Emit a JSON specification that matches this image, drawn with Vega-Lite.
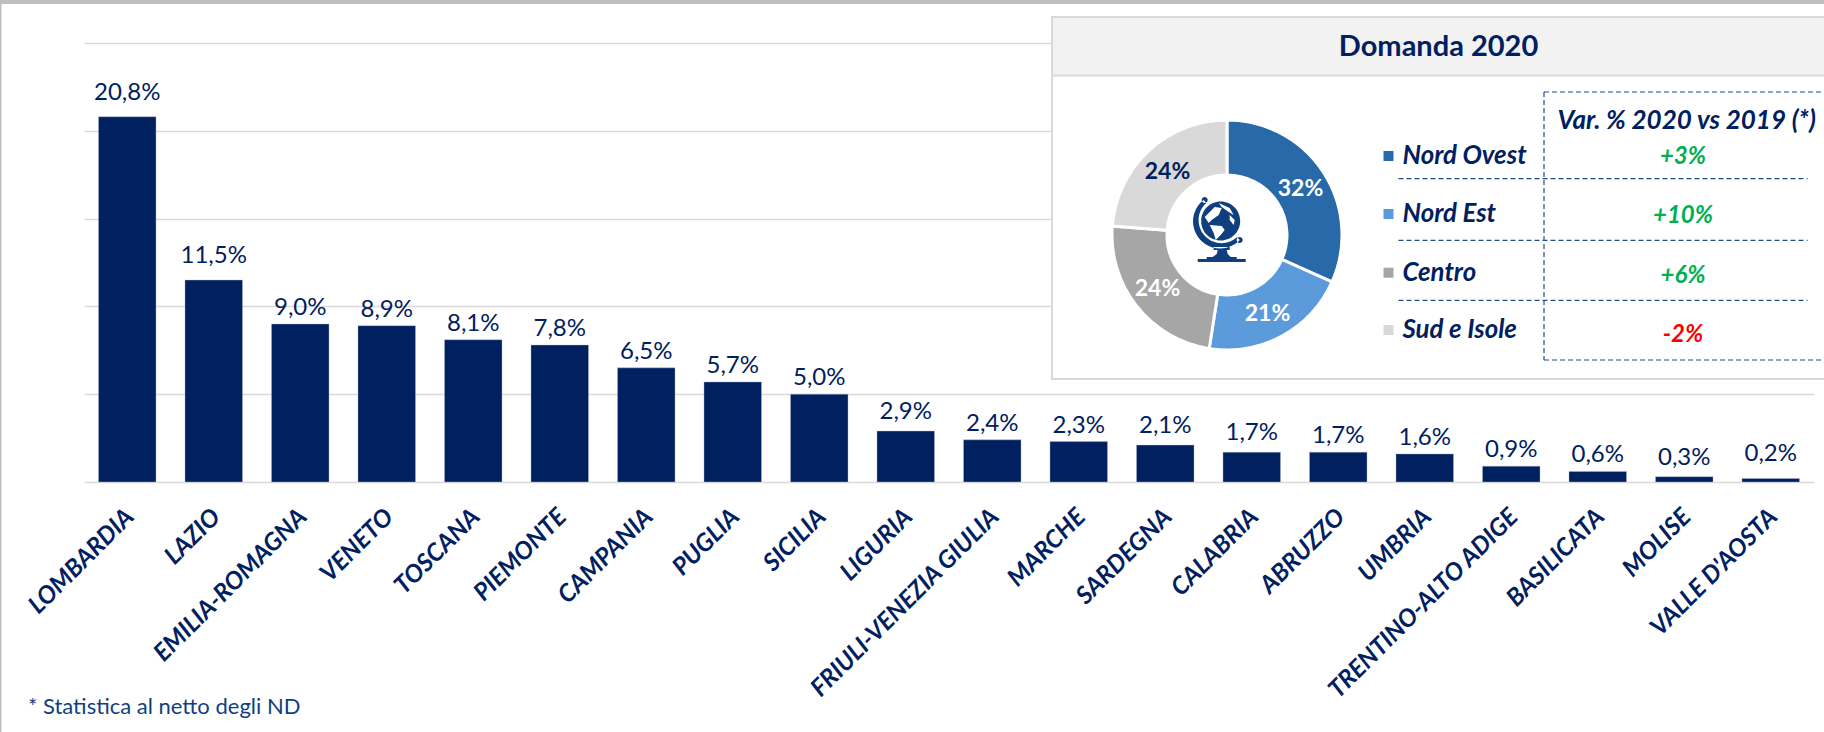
{
  "$schema": "https://vega.github.io/schema/vega-lite/v6.json",
  "width": 1730,
  "height": 439,
  "autosize": {"type": "none"},
  "padding": {"left": 84, "top": 43, "right": 10, "bottom": 250},
  "background": "white",
  "config": {"view": {"stroke": null}, "font": "Lato"},
  "datasets": {
    "regioni": [
      {"regione": "LOMBARDIA", "quota": 20.8, "etichetta": "20,8%"},
      {"regione": "LAZIO", "quota": 11.5, "etichetta": "11,5%"},
      {"regione": "EMILIA-ROMAGNA", "quota": 9.0, "etichetta": "9,0%"},
      {"regione": "VENETO", "quota": 8.9, "etichetta": "8,9%"},
      {"regione": "TOSCANA", "quota": 8.1, "etichetta": "8,1%"},
      {"regione": "PIEMONTE", "quota": 7.8, "etichetta": "7,8%"},
      {"regione": "CAMPANIA", "quota": 6.5, "etichetta": "6,5%"},
      {"regione": "PUGLIA", "quota": 5.7, "etichetta": "5,7%"},
      {"regione": "SICILIA", "quota": 5.0, "etichetta": "5,0%"},
      {"regione": "LIGURIA", "quota": 2.9, "etichetta": "2,9%"},
      {"regione": "FRIULI-VENEZIA GIULIA", "quota": 2.4, "etichetta": "2,4%"},
      {"regione": "MARCHE", "quota": 2.3, "etichetta": "2,3%"},
      {"regione": "SARDEGNA", "quota": 2.1, "etichetta": "2,1%"},
      {"regione": "CALABRIA", "quota": 1.7, "etichetta": "1,7%"},
      {"regione": "ABRUZZO", "quota": 1.7, "etichetta": "1,7%"},
      {"regione": "UMBRIA", "quota": 1.6, "etichetta": "1,6%"},
      {"regione": "TRENTINO-ALTO ADIGE", "quota": 0.9, "etichetta": "0,9%"},
      {"regione": "BASILICATA", "quota": 0.6, "etichetta": "0,6%"},
      {"regione": "MOLISE", "quota": 0.3, "etichetta": "0,3%"},
      {"regione": "VALLE D'AOSTA", "quota": 0.2, "etichetta": "0,2%"}
    ],
    "cornice": [
      {"x": 0, "x2": 1824, "y": 0, "y2": 4},
      {"x": 0, "x2": 1.5, "y": 0, "y2": 732}
    ],
    "pannello": [
      {"x": 1052, "x2": 1840, "y": 17, "y2": 379, "parte": "corpo"},
      {"x": 1052, "x2": 1840, "y": 17, "y2": 75.5, "parte": "testata"}
    ],
    "tratteggi": [
      {"x": 1544, "x2": 1544, "y": 92, "y2": 360},
      {"x": 1544, "x2": 1840, "y": 92, "y2": 92},
      {"x": 1544, "x2": 1840, "y": 360, "y2": 360},
      {"x": 1398.5, "x2": 1807.5, "y": 178.7, "y2": 178.7},
      {"x": 1398.5, "x2": 1807.5, "y": 240.3, "y2": 240.3},
      {"x": 1398.5, "x2": 1807.5, "y": 300.3, "y2": 300.3}
    ],
    "macroaree": [
      {"area": "Nord Ovest", "ordine": 1, "peso": 32, "xc": 1227, "yc": 235},
      {"area": "Nord Est", "ordine": 2, "peso": 21, "xc": 1227, "yc": 235},
      {"area": "Centro", "ordine": 3, "peso": 24, "xc": 1227, "yc": 235},
      {"area": "Sud e Isole", "ordine": 4, "peso": 24, "xc": 1227, "yc": 235}
    ],
    "legenda": [
      {"area": "Nord Ovest", "x": 1388.5, "y": 156, "xt": 1402.5, "var": "+3%", "xv": 1683, "yv": 157, "tono": "su"},
      {"area": "Nord Est", "x": 1388.5, "y": 214, "xt": 1402.5, "var": "+10%", "xv": 1683, "yv": 216, "tono": "su"},
      {"area": "Centro", "x": 1388.5, "y": 272.7, "xt": 1402.5, "var": "+6%", "xv": 1683, "yv": 276, "tono": "su"},
      {"area": "Sud e Isole", "x": 1388.5, "y": 330, "xt": 1402.5, "var": "-2%", "xv": 1683, "yv": 335, "tono": "giu"}
    ],
    "percentuali": [
      {"testo": "32%", "x": 1300.5, "y": 189, "colore": "chiaro"},
      {"testo": "21%", "x": 1267.5, "y": 314, "colore": "chiaro"},
      {"testo": "24%", "x": 1157.5, "y": 289, "colore": "chiaro"},
      {"testo": "24%", "x": 1167.5, "y": 172, "colore": "scuro"}
    ],
    "titolo": [{"testo": "Domanda 2020", "x": 1438.5, "y": 47}],
    "intestazione": [{"testo": "Var. % 2020 vs 2019 (*)", "x": 1686.7, "y": 121}],
    "nota": [{"testo": "* Statistica al netto degli ND", "x": 28, "y": 707}],
    "globo": [{"x": 1220.7, "y": 221}]
  },
  "resolve": {"scale": {"x": "independent", "y": "independent", "color": "independent", "theta": "independent"}},
  "layer": [
    {
      "data": {"name": "regioni"},
      "encoding": {
        "x": {
          "field": "regione", "type": "nominal", "sort": null,
          "scale": {
            "domain": ["LOMBARDIA", "LAZIO", "EMILIA-ROMAGNA", "VENETO", "TOSCANA", "PIEMONTE", "CAMPANIA", "PUGLIA", "SICILIA", "LIGURIA", "FRIULI-VENEZIA GIULIA", "MARCHE", "SARDEGNA", "CALABRIA", "ABRUZZO", "UMBRIA", "TRENTINO-ALTO ADIGE", "BASILICATA", "MOLISE", "VALLE D'AOSTA"],
            "paddingInner": 0.335, "paddingOuter": 0.1675
          },
          "axis": {
            "title": null, "domain": false, "ticks": false,
            "labelAngle": -45, "labelAlign": "right", "labelBaseline": "middle",
            "labelFont": "Lato", "labelFontWeight": "bold", "labelFontStyle": "italic",
            "labelFontSize": 24.5, "labelColor": "#002060", "labelPadding": 31,
            "labelOffset": 3, "labelOverlap": false, "labelLimit": 500, "labelBound": false, "labelFlush": false
          }
        },
        "y": {
          "field": "quota", "type": "quantitative",
          "scale": {"domain": [0, 25], "nice": false},
          "axis": {
            "title": null, "domain": false, "ticks": false, "labels": false,
            "values": [0, 5, 10, 15, 20, 25],
            "grid": true, "gridColor": "#D9D9D9", "gridWidth": 1.6
          }
        }
      },
      "layer": [
        {"mark": {"type": "bar", "color": "#002060", "stroke": "#B4BED6", "strokeWidth": 0.4}},
        {
          "transform": [{"filter": {"field": "regione", "oneOf": ["LOMBARDIA", "LAZIO", "VALLE D'AOSTA"]}}],
          "mark": {"type": "text", "baseline": "alphabetic", "dy": -17, "fontSize": 24, "color": "#002060", "font": "Lato"},
          "encoding": {"text": {"field": "etichetta"}}
        },
        {
          "transform": [{"filter": {"field": "regione", "oneOf": ["LIGURIA", "MOLISE", "SARDEGNA", "CALABRIA"]}}],
          "mark": {"type": "text", "baseline": "alphabetic", "dy": -12, "fontSize": 24, "color": "#002060", "font": "Lato"},
          "encoding": {"text": {"field": "etichetta"}}
        },
        {
          "transform": [{"filter": {"not": {"field": "regione", "oneOf": ["LOMBARDIA", "LAZIO", "VALLE D'AOSTA", "LIGURIA", "MOLISE", "SARDEGNA", "CALABRIA"]}}}],
          "mark": {"type": "text", "baseline": "alphabetic", "dy": -9, "fontSize": 24, "color": "#002060", "font": "Lato"},
          "encoding": {"text": {"field": "etichetta"}}
        }
      ]
    },
    {
      "data": {"name": "cornice"},
      "mark": {"type": "rect", "color": "#BFBFBF"},
      "encoding": {
        "x": {"field": "x", "type": "quantitative", "scale": {"domain": [84, 1814], "range": [0, 1730]}, "axis": null},
        "x2": {"field": "x2"},
        "y": {"field": "y", "type": "quantitative", "scale": {"domain": [43, 482], "range": [0, 439]}, "axis": null},
        "y2": {"field": "y2"}
      }
    },
    {
      "data": {"name": "pannello"},
      "mark": {"type": "rect", "stroke": "#D9D9D9", "strokeWidth": 2},
      "encoding": {
        "x": {"field": "x", "type": "quantitative", "scale": {"domain": [84, 1814], "range": [0, 1730]}, "axis": null},
        "x2": {"field": "x2"},
        "y": {"field": "y", "type": "quantitative", "scale": {"domain": [43, 482], "range": [0, 439]}, "axis": null},
        "y2": {"field": "y2"},
        "fill": {"field": "parte", "type": "nominal", "scale": {"domain": ["corpo", "testata"], "range": ["#FFFFFF", "#F2F2F2"]}, "legend": null}
      }
    },
    {
      "data": {"name": "tratteggi"},
      "mark": {"type": "rule", "color": "#1F4E8C", "strokeWidth": 1.2, "strokeDash": [5, 3]},
      "encoding": {
        "x": {"field": "x", "type": "quantitative", "scale": {"domain": [84, 1814], "range": [0, 1730]}, "axis": null},
        "x2": {"field": "x2"},
        "y": {"field": "y", "type": "quantitative", "scale": {"domain": [43, 482], "range": [0, 439]}, "axis": null},
        "y2": {"field": "y2"}
      }
    },
    {
      "data": {"name": "macroaree"},
      "mark": {"type": "arc", "innerRadius": 60, "outerRadius": 115, "stroke": "#FFFFFF", "strokeWidth": 3},
      "encoding": {
        "x": {"field": "xc", "type": "quantitative", "scale": {"domain": [84, 1814], "range": [0, 1730]}, "axis": null},
        "y": {"field": "yc", "type": "quantitative", "scale": {"domain": [43, 482], "range": [0, 439]}, "axis": null},
        "theta": {"field": "peso", "type": "quantitative", "stack": true},
        "order": {"field": "ordine"},
        "color": {
          "field": "area", "type": "nominal",
          "scale": {"domain": ["Nord Ovest", "Nord Est", "Centro", "Sud e Isole"], "range": ["#2869A9", "#5B9BDB", "#A6A6A6", "#D9D9D9"]},
          "legend": null
        }
      }
    },
    {
      "data": {"name": "globo"},
      "encoding": {
        "x": {"field": "x", "type": "quantitative", "scale": {"domain": [84, 1814], "range": [0, 1730]}, "axis": null},
        "y": {"field": "y", "type": "quantitative", "scale": {"domain": [43, 482], "range": [0, 439]}, "axis": null}
      },
      "layer": [
        {
          "mark": {"type": "point", "filled": true, "opacity": 1, "size": 4, "color": "#0F3F7F",
            "shape": "M0 -19.5 A19.5 19.5 0 1 1 0 19.5 A19.5 19.5 0 1 1 0 -19.5 Z M-17 -21 A27 27 0 1 0 19 19 L16.3 16.3 A23 23 0 1 1 -14.5 -17.9 Z M-19 -21 A3 3 0 1 1 -13 -21 A3 3 0 1 1 -19 -21 Z M16 19 A3 3 0 1 1 22 19 A3 3 0 1 1 16 19 Z M-7 26 L9 26 L9 29 L6 29 L7 33 L10 36 L16 36 L16 38 L25 38 L25 41 L-23 41 L-23 38 L-14 38 L-14 36 L-8 36 L-4 33 L-3 29 L-7 29 Z"
          }
        },
        {
          "mark": {"type": "point", "filled": true, "opacity": 1, "size": 4, "color": "#FFFFFF",
            "shape": "M-16 -4 L-6 -14 L1 -13 L-2 -6 L-9 -1 L-12 2 Z M-11 4 L1 5 L4 9 L0 14 L-5 19 L-7 12 Z M-2 -18 L9 -13 L13 -6 L8 -9 L1 -14 Z M9 -6 L14 -1 L13 4 L9 -1 Z"
          }
        }
      ]
    },
    {
      "data": {"name": "percentuali"},
      "mark": {"type": "text", "fontSize": 23, "fontWeight": "bold", "font": "Lato", "baseline": "middle"},
      "encoding": {
        "x": {"field": "x", "type": "quantitative", "scale": {"domain": [84, 1814], "range": [0, 1730]}, "axis": null},
        "y": {"field": "y", "type": "quantitative", "scale": {"domain": [43, 482], "range": [0, 439]}, "axis": null},
        "text": {"field": "testo"},
        "color": {"field": "colore", "type": "nominal", "scale": {"domain": ["chiaro", "scuro"], "range": ["#FFFFFF", "#002060"]}, "legend": null}
      }
    },
    {
      "data": {"name": "legenda"},
      "mark": {"type": "point", "shape": "square", "filled": true, "opacity": 1, "size": 100},
      "encoding": {
        "x": {"field": "x", "type": "quantitative", "scale": {"domain": [84, 1814], "range": [0, 1730]}, "axis": null},
        "y": {"field": "y", "type": "quantitative", "scale": {"domain": [43, 482], "range": [0, 439]}, "axis": null},
        "color": {
          "field": "area", "type": "nominal",
          "scale": {"domain": ["Nord Ovest", "Nord Est", "Centro", "Sud e Isole"], "range": ["#2869A9", "#5B9BDB", "#A6A6A6", "#D9D9D9"]},
          "legend": null
        }
      }
    },
    {
      "data": {"name": "legenda"},
      "mark": {"type": "text", "align": "left", "baseline": "middle", "fontSize": 25.8, "fontWeight": "bold", "fontStyle": "italic", "font": "Lato", "color": "#002060"},
      "encoding": {
        "x": {"field": "xt", "type": "quantitative", "scale": {"domain": [84, 1814], "range": [0, 1730]}, "axis": null},
        "y": {"field": "y", "type": "quantitative", "scale": {"domain": [43, 482], "range": [0, 439]}, "axis": null},
        "text": {"field": "area"}
      }
    },
    {
      "data": {"name": "legenda"},
      "mark": {"type": "text", "align": "center", "baseline": "middle", "fontSize": 24, "fontWeight": "bold", "fontStyle": "italic", "font": "Lato"},
      "encoding": {
        "x": {"field": "xv", "type": "quantitative", "scale": {"domain": [84, 1814], "range": [0, 1730]}, "axis": null},
        "y": {"field": "yv", "type": "quantitative", "scale": {"domain": [43, 482], "range": [0, 439]}, "axis": null},
        "text": {"field": "var"},
        "color": {"field": "tono", "type": "nominal", "scale": {"domain": ["su", "giu"], "range": ["#00B050", "#FF0000"]}, "legend": null}
      }
    },
    {
      "data": {"name": "titolo"},
      "mark": {"type": "text", "align": "center", "baseline": "middle", "fontSize": 29, "fontWeight": "bold", "font": "Lato", "color": "#002060"},
      "encoding": {
        "x": {"field": "x", "type": "quantitative", "scale": {"domain": [84, 1814], "range": [0, 1730]}, "axis": null},
        "y": {"field": "y", "type": "quantitative", "scale": {"domain": [43, 482], "range": [0, 439]}, "axis": null},
        "text": {"field": "testo"}
      }
    },
    {
      "data": {"name": "intestazione"},
      "mark": {"type": "text", "align": "center", "baseline": "middle", "fontSize": 26, "fontWeight": "bold", "fontStyle": "italic", "font": "Lato", "color": "#002060"},
      "encoding": {
        "x": {"field": "x", "type": "quantitative", "scale": {"domain": [84, 1814], "range": [0, 1730]}, "axis": null},
        "y": {"field": "y", "type": "quantitative", "scale": {"domain": [43, 482], "range": [0, 439]}, "axis": null},
        "text": {"field": "testo"}
      }
    },
    {
      "data": {"name": "nota"},
      "mark": {"type": "text", "align": "left", "baseline": "middle", "fontSize": 22, "font": "Lato", "color": "#0F3F7F"},
      "encoding": {
        "x": {"field": "x", "type": "quantitative", "scale": {"domain": [84, 1814], "range": [0, 1730]}, "axis": null},
        "y": {"field": "y", "type": "quantitative", "scale": {"domain": [43, 482], "range": [0, 439]}, "axis": null},
        "text": {"field": "testo"}
      }
    }
  ]
}
